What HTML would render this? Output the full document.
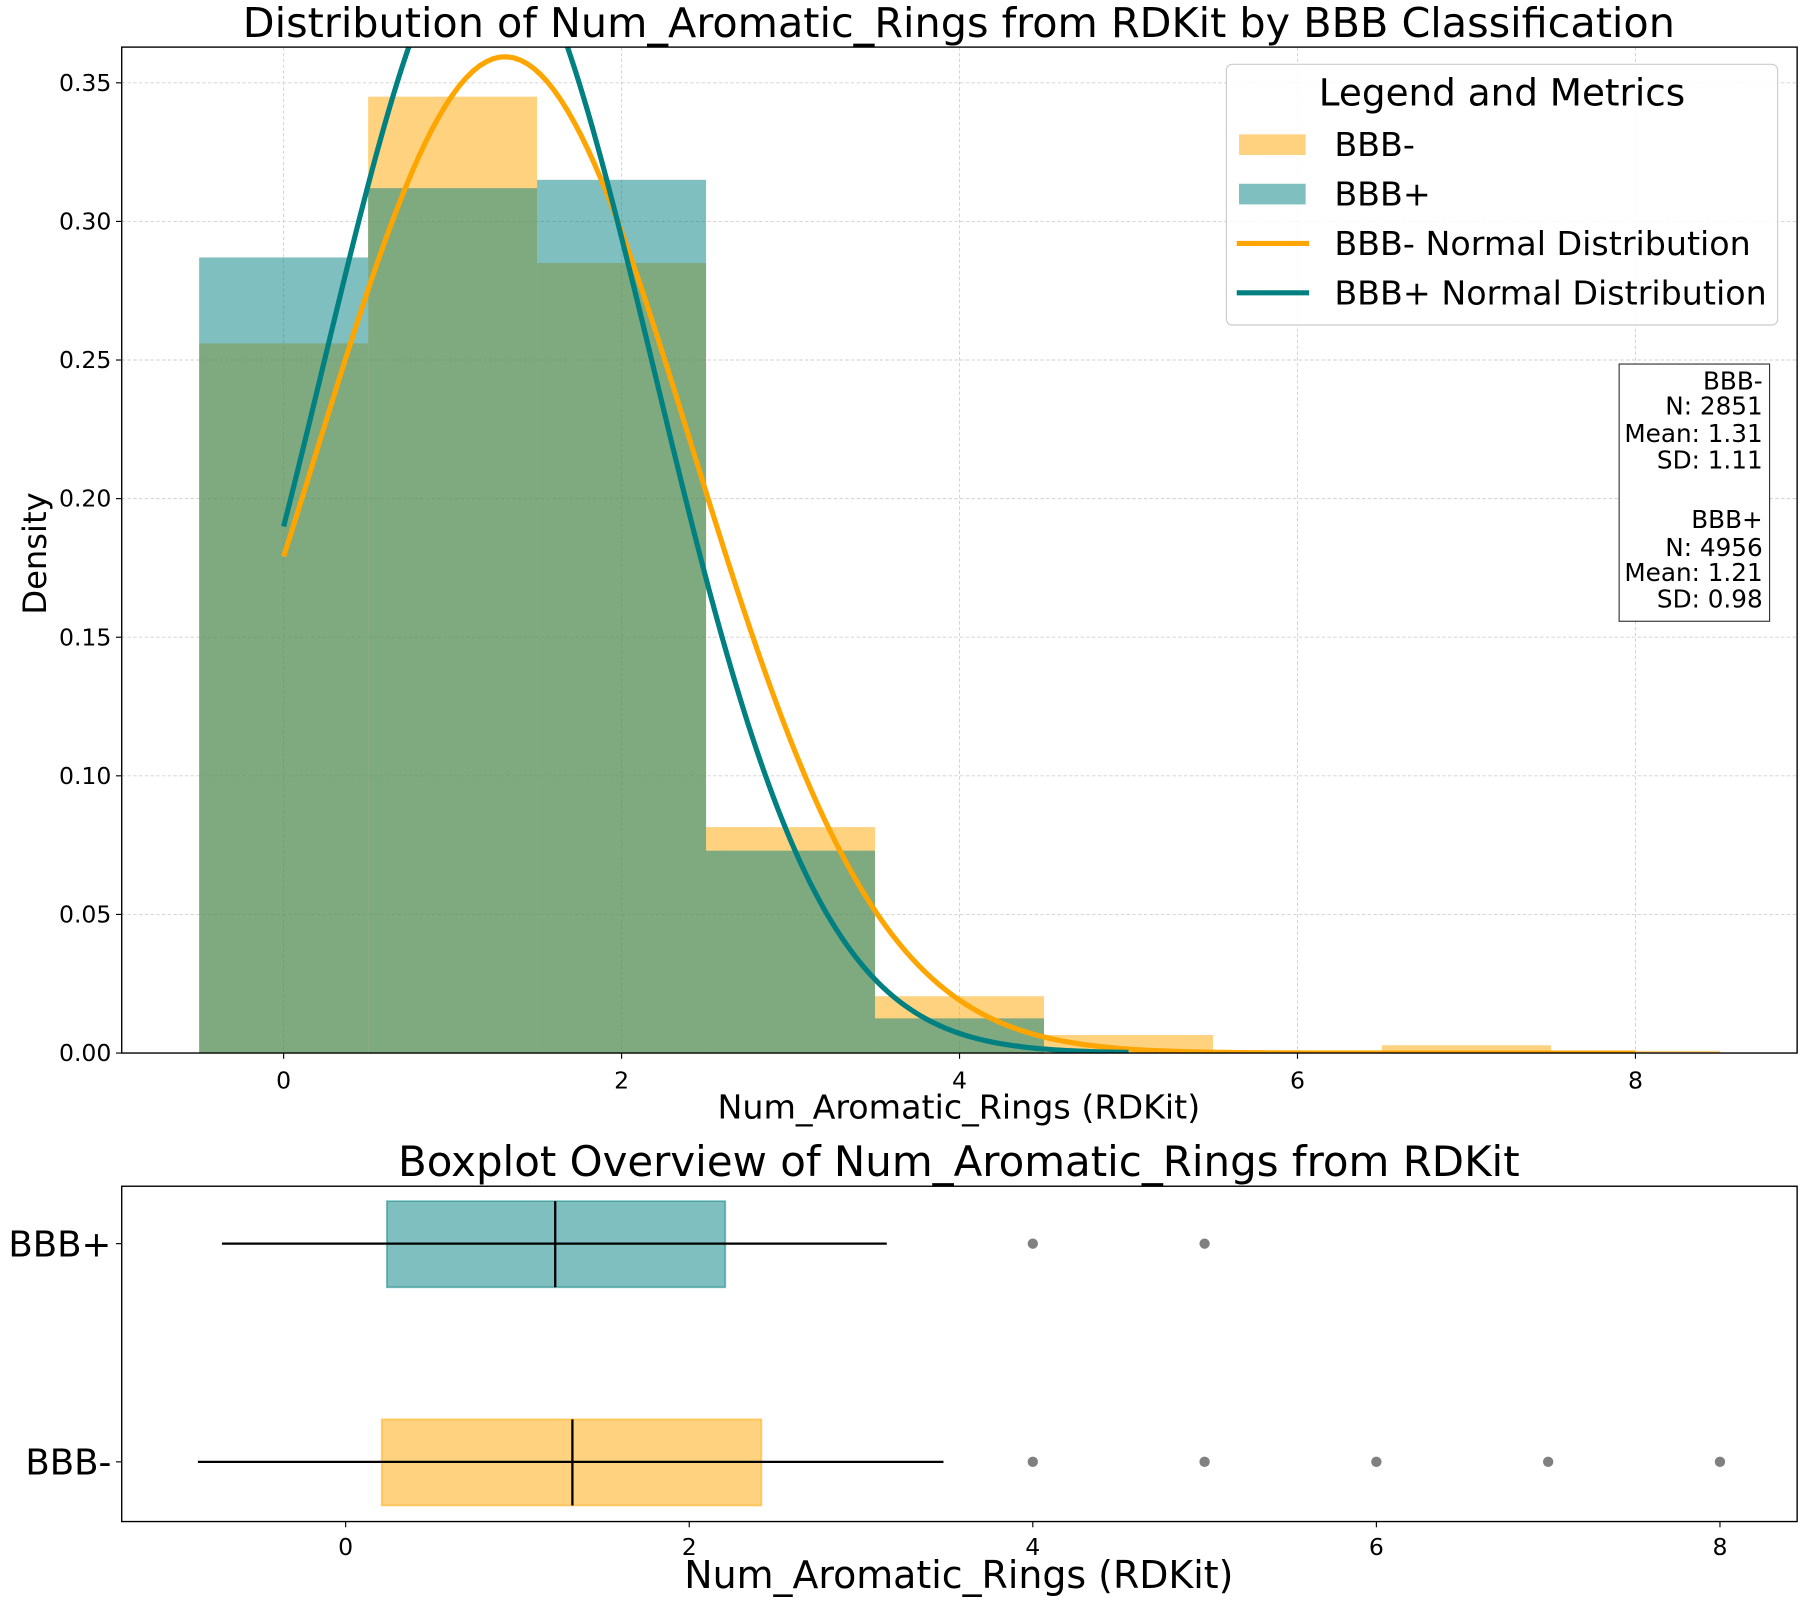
<!DOCTYPE html>
<html><head><meta charset="utf-8"><style>
html,body{margin:0;padding:0;background:#fff}
svg{display:block;font-family:"DejaVu Sans","Liberation Sans",sans-serif}
</style></head><body>
<svg id="chart" width="1800" height="1600" viewBox="0 0 1567.5 1393.3" xmlns="http://www.w3.org/2000/svg">
<rect width="1567.5" height="1393.3" fill="#fff"/>
<g id="topPanel"></g>
<g id="botPanel"></g>
</svg>
<script>
const binCenters=[0,1,2,3,4,5,6,7,8];
const bbbMinusDensity=[0.256,0.345,0.285,0.0815,0.0205,0.0065,0.0007,0.0028,0.0008];
const bbbPlusDensity=[0.287,0.312,0.315,0.073,0.0125,0,0,0,0];
const bbbMinusMean=1.31, bbbMinusSD=1.11, bbbMinusMax=8;
const bbbPlusMean=1.21, bbbPlusSD=0.98, bbbPlusMax=5;
const yTicks=[0,0.05,0.10,0.15,0.20,0.25,0.30,0.35];
const yTickLabels=["0.00","0.05","0.10","0.15","0.20","0.25","0.30","0.35"];
const xTicks=[0,2,4,6,8];
const boxCategories=["BBB+","BBB-"];
const boxQ1=[0.24,0.21];
const boxMedian=[1.22,1.32];
const boxQ3=[2.21,2.42];
const whiskerLo=[-0.72,-0.86];
const whiskerHi=[3.15,3.48];
const outliersPlus=[4,5];
const outliersMinus=[4,5,6,7,8];

const NS="http://www.w3.org/2000/svg";
function mk(parent,tag,attrs,text){const el=document.createElementNS(NS,tag);for(const k in attrs)el.setAttribute(k,attrs[k]);if(text!==undefined)el.textContent=text;parent.appendChild(el);return el;}

const T={l:106,r:1565,t:41,b:917};
function xs(v){return 247+v*147.15;}
function ys(v){return 917-v*2414;}
function bx(v){return 301+v*149.6;}
function pdf(x,m,s){return Math.exp(-0.5*((x-m)/s)**2)/(s*Math.sqrt(2*Math.PI));}
const topG=document.getElementById('topPanel');
const botG=document.getElementById('botPanel');
let e;
const defs=mk(topG,'defs',{});
const cp=mk(defs,'clipPath',{id:'clipTop'});
mk(cp,'rect',{x:T.l,y:T.t,width:T.r-T.l,height:T.b-T.t});
yTicks.forEach(v=>{
e=mk(topG,'line',{x1:T.l,x2:T.r,y1:ys(v),y2:ys(v),stroke:'#d0d0d0','stroke-width':0.8,'stroke-dasharray':'3,2'});


});
xTicks.forEach(v=>{
e=mk(topG,'line',{x1:xs(v),x2:xs(v),y1:T.t,y2:T.b,stroke:'#d0d0d0','stroke-width':0.8,'stroke-dasharray':'3,2'});


});
binCenters.forEach((c,i)=>{const h=bbbMinusDensity[i];if(h<=0)return;
e=mk(topG,'rect',{x:xs(c-0.5),y:ys(h),width:xs(c+0.5)-xs(c-0.5),height:ys(0)-ys(h),fill:'#FFA500','fill-opacity':0.5});


});
binCenters.forEach((c,i)=>{const h=bbbPlusDensity[i];if(h<=0)return;
e=mk(topG,'rect',{x:xs(c-0.5),y:ys(h),width:xs(c+0.5)-xs(c-0.5),height:ys(0)-ys(h),fill:'#008080','fill-opacity':0.5});


});
function curve(m,s,mx,col,name){let d='';for(let i=0;i<=200;i++){const x=mx*i/200;d+=(i?'L':'M')+xs(x).toFixed(2)+','+ys(pdf(x,m,s)).toFixed(2);}
const p=mk(topG,'path',{d:d,fill:'none',stroke:col,'stroke-width':4.5,'clip-path':'url(#clipTop)'});


}
curve(bbbMinusMean,bbbMinusSD,bbbMinusMax,'#FFA500','bbb-minus-normal-curve');
curve(bbbPlusMean,bbbPlusSD,bbbPlusMax,'#008080','bbb-plus-normal-curve');
mk(topG,'rect',{x:T.l,y:T.t,width:T.r-T.l,height:T.b-T.t,fill:'none',stroke:'#000','stroke-width':1.2});
yTicks.forEach((v,i)=>{mk(topG,'line',{x1:T.l-5,x2:T.l,y1:ys(v),y2:ys(v),stroke:'#000'});
e=mk(topG,'text',{x:T.l-9,y:ys(v)+7,'text-anchor':'end','font-size':20.5},yTickLabels[i]);


});
xTicks.forEach(v=>{mk(topG,'line',{x1:xs(v),x2:xs(v),y1:T.b,y2:T.b+5,stroke:'#000'});
e=mk(topG,'text',{x:xs(v),y:T.b+31,'text-anchor':'middle','font-size':20.5},String(v));


});
e=mk(topG,'text',{x:835,y:32,'text-anchor':'middle','font-size':36},'Distribution of Num_Aromatic_Rings from RDKit by BBB Classification');


e=mk(topG,'text',{x:835,y:974,'text-anchor':'middle','font-size':29},'Num_Aromatic_Rings (RDKit)');


e=mk(topG,'text',{x:40,y:482,'text-anchor':'middle','font-size':28,transform:'rotate(-90 40 482)'},'Density');


const lg=mk(topG,'g',{});


mk(lg,'rect',{x:1068,y:56,width:480,height:227,rx:5,fill:'#fff','fill-opacity':0.85,stroke:'#ccc','stroke-width':1});
mk(lg,'text',{x:1308,y:92,'text-anchor':'middle','font-size':32.5},'Legend and Metrics');
const items=[['BBB-','patch','#FFA500',126],['BBB+','patch','#008080',169],['BBB- Normal Distribution','line','#FFA500',212],['BBB+ Normal Distribution','line','#008080',255]];
items.forEach(it=>{const g=mk(lg,'g',{});


if(it[1]=='patch')mk(g,'rect',{x:1079,y:it[3]-9,width:58,height:18,fill:it[2],'fill-opacity':0.5});
else mk(g,'line',{x1:1077,x2:1140,y1:it[3],y2:it[3],stroke:it[2],'stroke-width':4.5});
mk(g,'text',{x:1162,y:it[3]+10,'font-size':29},it[0]);});
const sb=mk(topG,'g',{});


mk(sb,'rect',{x:1410,y:317,width:131,height:224,fill:'#fff',stroke:'#333','stroke-width':1});
[['BBB-',332],['N: 2851',354],['Mean: 1.31',378],['SD: 1.11',401],['BBB+',453],['N: 4956',477],['Mean: 1.21',499],['SD: 0.98',522]].forEach(l=>mk(sb,'text',{x:1535,y:l[1]+7,'text-anchor':'end','font-size':21.5},l[0]));

const B={l:106,r:1565,t:1033,b:1325};
const catY=[1083,1273];
e=mk(botG,'text',{x:835,y:1024,'text-anchor':'middle','font-size':36.5},'Boxplot Overview of Num_Aromatic_Rings from RDKit');


const cols=['#008080','#FFA500'];
boxCategories.forEach((c,i)=>{const y=catY[i];const g=mk(botG,'g',{});


mk(g,'rect',{x:bx(boxQ1[i]),y:y-37,width:bx(boxQ3[i])-bx(boxQ1[i]),height:75,fill:cols[i],'fill-opacity':0.5,stroke:cols[i],'stroke-opacity':0.5,'stroke-width':1.5});
mk(g,'line',{x1:bx(whiskerLo[i]),x2:bx(whiskerHi[i]),y1:y,y2:y,stroke:'#000','stroke-width':2});
mk(g,'line',{x1:bx(boxMedian[i]),x2:bx(boxMedian[i]),y1:y-37,y2:y+38,stroke:'#000','stroke-width':2});
(i?outliersMinus:outliersPlus).forEach(o=>{const d=mk(g,'circle',{cx:bx(o),cy:y,r:4.5,fill:'#808080'});


});
mk(botG,'line',{x1:B.l-5,x2:B.l,y1:y,y2:y,stroke:'#000'});
const t=mk(botG,'text',{x:B.l-9,y:y+11,'text-anchor':'end','font-size':31},c);


});
mk(botG,'rect',{x:B.l,y:B.t,width:B.r-B.l,height:B.b-B.t,fill:'none',stroke:'#000','stroke-width':1.2});
xTicks.forEach(v=>{mk(botG,'line',{x1:bx(v),x2:bx(v),y1:B.b,y2:B.b+5,stroke:'#000'});
const t=mk(botG,'text',{x:bx(v),y:B.b+29,'text-anchor':'middle','font-size':20.5},String(v));


});
e=mk(botG,'text',{x:835,y:1383,'text-anchor':'middle','font-size':33},'Num_Aromatic_Rings (RDKit)');


</script>
</body></html>
